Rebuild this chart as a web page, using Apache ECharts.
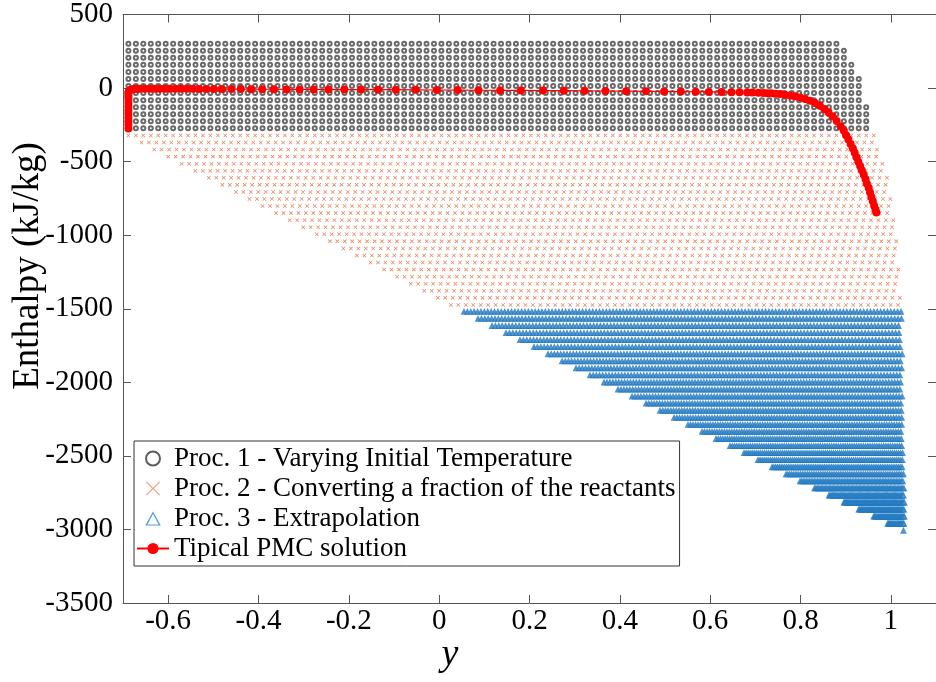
<!DOCTYPE html>
<html>
<head>
<meta charset="utf-8">
<title>Enthalpy map</title>
<script src="https://cdn.jsdelivr.net/npm/echarts@6/dist/echarts.min.js"></script>
<style>
  html, body { margin: 0; padding: 0; background: #fff; }
  #chart { width: 936px; height: 682px; }
</style>
</head>
<body>
<div id="chart"></div>
<script>
// ---- data ----
var seriesNames = [
    'Proc. 1 - Varying Initial Temperature',
    'Proc. 2 - Converting a fraction of the reactants',
    'Proc. 3 - Extrapolation',
    'Tipical PMC solution'
];
var xTicks = [-0.6, -0.4, -0.2, 0, 0.2, 0.4, 0.6, 0.8, 1];

// Proc. 1 : rows of enthalpy, first and last y of each row
var p1Rows  = [302, 254, 206, 158, 110, 62, 14, -34, -82, -130, -178, -226, -274];
var p1Start = [-0.688, -0.688, -0.688, -0.688, -0.688, -0.688, -0.688, -0.688, -0.688, -0.688, -0.688, -0.688, -0.688];
var p1End   = [0.886, 0.897, 0.907, 0.914, 0.922, 0.929, 0.932, 0.938, 0.943, 0.949, 0.953, 0.957, 0.961];
var p1Step  = 0.0165;

// Proc. 2
var p2Rows  = [-322, -370, -418, -466, -514, -562, -610, -658, -706, -754, -802, -850, -898,
               -946, -994, -1042, -1090, -1138, -1186, -1234, -1282, -1330, -1378, -1426, -1474];
var p2Start = [-0.688, -0.659, -0.631, -0.600, -0.570, -0.540, -0.510, -0.480, -0.450, -0.420,
               -0.391, -0.361, -0.331, -0.301, -0.271, -0.242, -0.212, -0.182, -0.152, -0.122,
               -0.093, -0.063, -0.033, -0.003, 0.026];
var p2End   = [0.969, 0.973, 0.978, 0.982, 0.986, 0.990, 0.993, 0.996, 0.998, 1.000,
               1.002, 1.004, 1.006, 1.008, 1.010, 1.012, 1.014, 1.015, 1.016, 1.017,
               1.018, 1.019, 1.020, 1.021, 1.022];
var p2Step  = 0.0165;

// Proc. 3
var p3Rows  = [-1522, -1570, -1618, -1666, -1714, -1762, -1810, -1858, -1906, -1954, -2002,
               -2050, -2098, -2146, -2194, -2242, -2290, -2338, -2386, -2434, -2482, -2530,
               -2578, -2626, -2674, -2722, -2770, -2818, -2866, -2914, -2962, -3010];
var p3Start = [0.055, 0.086, 0.117, 0.148, 0.179, 0.210, 0.241, 0.272, 0.303, 0.334, 0.365,
               0.396, 0.427, 0.458, 0.489, 0.520, 0.551, 0.582, 0.613, 0.644, 0.675, 0.706,
               0.737, 0.768, 0.799, 0.831, 0.863, 0.896, 0.929, 0.962, 0.993, 1.028];
var p3End   = [1.024, 1.024, 1.024, 1.024, 1.025, 1.025, 1.025, 1.025, 1.025, 1.025, 1.026,
               1.026, 1.026, 1.026, 1.026, 1.027, 1.027, 1.027, 1.027, 1.027, 1.028, 1.028,
               1.028, 1.028, 1.029, 1.029, 1.029, 1.030, 1.030, 1.030, 1.030, 1.028];
var p3Step  = [0.0075, 0.0075, 0.0075, 0.0075, 0.0075, 0.0075, 0.007, 0.007, 0.007, 0.007, 0.0065,
               0.0065, 0.0065, 0.006, 0.006, 0.006, 0.0055, 0.0055, 0.005, 0.005, 0.0045, 0.0045,
               0.004, 0.004, 0.0035, 0.003, 0.0025, 0.002, 0.002, 0.002, 0.002, 0.002];

// typical PMC solution
var pmcY = [-0.688, -0.688, -0.688, -0.688, -0.688, -0.688, -0.688, -0.688, -0.688, -0.688, -0.688, -0.688,
            -0.686, -0.682, -0.676, -0.669, -0.663, -0.652, -0.641, -0.630, -0.619, -0.608, -0.597, -0.584,
            -0.571, -0.559, -0.545, -0.532, -0.516, -0.499, -0.481, -0.460, -0.439, -0.416, -0.392, -0.366,
            -0.338, -0.309, -0.278, -0.245, -0.210, -0.173, -0.135, -0.096, -0.052, -0.005, 0.041, 0.087,
            0.135, 0.181, 0.230, 0.276, 0.322, 0.368, 0.414, 0.458, 0.498, 0.535, 0.568, 0.597, 0.625,
            0.647, 0.665, 0.682, 0.693, 0.707, 0.718,
            0.727, 0.735, 0.744, 0.755, 0.766, 0.777, 0.788, 0.799, 0.810, 0.821, 0.832, 0.843, 0.853,
            0.862, 0.871, 0.880, 0.889, 0.896, 0.901, 0.906, 0.911, 0.916, 0.920, 0.924, 0.928, 0.932,
            0.936, 0.940, 0.944, 0.947, 0.951, 0.954, 0.957, 0.960, 0.963, 0.966, 0.968];
var pmcH = [-275, -250, -225, -200, -175, -150, -125, -100, -75, -55, -38, -26,
            -16, -10, -7, -6, -5, -5, -5, -5, -5, -5, -5, -5,
            -5, -5, -5, -6, -6, -6, -7, -7, -7, -8, -8, -8,
            -9, -9, -9, -10, -10, -10, -11, -11, -12, -13, -14, -15,
            -16, -16, -17, -18, -19, -20, -21, -22, -23, -24, -25, -26, -27,
            -28, -29, -30, -31, -32, -33,
            -35, -36, -38, -41, -45, -50, -56, -64, -74, -87, -102, -121, -142,
            -165, -192, -224, -262, -290, -320, -350, -380, -410, -440, -470, -500, -530,
            -560, -590, -620, -650, -680, -710, -740, -770, -800, -825, -845];

// ---- build point lists ----
function rowsToPoints(rows, starts, ends, step) {
    var pts = [];
    for (var i = 0; i < rows.length; i++) {
        var s = Array.isArray(step) ? step[i] : step;
        for (var y = starts[i]; y <= ends[i] + 1e-9; y += s) {
            pts.push([y, rows[i]]);
        }
    }
    return pts;
}
var p1Data = rowsToPoints(p1Rows, p1Start, p1End, p1Step);
var p2Data = rowsToPoints(p2Rows, p2Start, p2End, p2Step);
var p3Data = rowsToPoints(p3Rows, p3Start, p3End, p3Step);
var pmcData = pmcY.map(function (y, i) { return [y, pmcH[i]]; });

var serif = 'Liberation Serif';
var axisColor = '#555';
var crossPath = 'path://M0,1.3L1.3,0L5,3.7L8.7,0L10,1.3L6.3,5L10,8.7L8.7,10L5,6.3L1.3,10L0,8.7L3.7,5Z';
// hollow triangle for the legend (outer and inner wound opposite ways)
var triIcon = 'path://M5,0L10,9L0,9Z M5,1.6L1.4,8.3L8.6,8.3Z';
var crossIcon = 'path://M0,0.6L0.6,0L5,4.4L9.4,0L10,0.6L5.6,5L10,9.4L9.4,10L5,5.6L0.6,10L0,9.4L4.4,5Z';

function axisBase(pos) {
    return {
        type: 'value',
        position: pos,
        splitLine: { show: false },
        axisLine: { show: true, onZero: false, lineStyle: { color: axisColor, width: 1 } },
        axisTick: { show: true, inside: true, length: 8, lineStyle: { color: axisColor } }
    };
}

var xBottom = axisBase('bottom');
xBottom.min = -0.7; xBottom.max = 1.1;
xBottom.axisTick.customValues = xTicks;
xBottom.axisLabel = {
    customValues: xTicks,
    fontFamily: serif, fontSize: 29, color: '#000', margin: 4,
    formatter: function (v) { return String(v); }
};
var xTop = axisBase('top');
xTop.min = -0.7; xTop.max = 1.1;
xTop.axisTick.customValues = xTicks;
xTop.axisLabel = { show: false };

var yLeft = axisBase('left');
yLeft.min = -3500; yLeft.max = 500; yLeft.interval = 500;
yLeft.axisLabel = {
    fontFamily: serif, fontSize: 29, color: '#000', margin: 10,
    formatter: function (v) { return String(v); }
};
var yRight = axisBase('right');
yRight.min = -3500; yRight.max = 500; yRight.interval = 500;
yRight.axisLabel = { show: false };

var myChart = echarts.init(document.getElementById('chart'));
var option = {
    animation: false,
    grid: { left: 123, right: -6, top: 14, bottom: 79 },
    legend: {
        orient: 'vertical',
        left: 134,
        top: 441,
        backgroundColor: '#fff',
        borderColor: '#333',
        borderWidth: 1,
        borderRadius: 0,
        padding: [4, 4, 4, 2],
        itemWidth: 32,
        itemHeight: 14,
        itemGap: 3,
        symbolKeepAspect: true,
        textStyle: { fontFamily: serif, fontSize: 27, lineHeight: 27, color: '#000' },
        data: [
            { name: seriesNames[0], icon: 'emptyCircle', itemStyle: { color: '#333', borderWidth: 1 } },
            { name: seriesNames[1], icon: crossIcon, itemStyle: { color: '#E8845C' } },
            { name: seriesNames[2], icon: triIcon, itemStyle: { color: '#2b83c9' } },
            { name: seriesNames[3] }
        ]
    },
    xAxis: [xBottom, xTop],
    yAxis: [yLeft, yRight],
    graphic: [{
        type: 'text',
        x: 28,
        y: 266,
        rotation: Math.PI / 2,
        style: {
            text: 'Enthalpy (kJ/kg)',
            font: '37px "Liberation Serif"',
            fill: '#000',
            textAlign: 'center',
            textVerticalAlign: 'middle'
        }
    }, {
        type: 'text',
        x: 450,
        y: 655,
        style: {
            text: 'y',
            font: 'italic 38px "Liberation Serif"',
            fill: '#000',
            textAlign: 'center',
            textVerticalAlign: 'middle'
        }
    }],
    series: [{
        name: seriesNames[0],
        type: 'scatter',
        data: p1Data,
        symbol: 'emptyCircle',
        symbolSize: 4,
        progressive: 0,
        itemStyle: { color: '#444', borderWidth: 0.8 },
        z: 2
    }, {
        name: seriesNames[1],
        type: 'scatter',
        data: p2Data,
        symbol: crossPath,
        symbolSize: 4,
        progressive: 0,
        itemStyle: { color: '#DE6A3E' },
        z: 2
    }, {
        name: seriesNames[2],
        type: 'scatter',
        data: p3Data,
        symbol: 'emptyTriangle',
        symbolSize: 3.6,
        progressive: 0,
        itemStyle: { color: '#1f78c1', borderWidth: 0.7 },
        z: 2
    }, {
        name: seriesNames[3],
        type: 'line',
        data: pmcData,
        symbol: 'circle',
        symbolSize: 8,
        showSymbol: true,
        showAllSymbol: true,
        lineStyle: { color: '#ff0000', width: 1.2 },
        itemStyle: { color: '#ff0000' },
        z: 5
    }]
};
myChart.setOption(option);
</script>
</body>
</html>
